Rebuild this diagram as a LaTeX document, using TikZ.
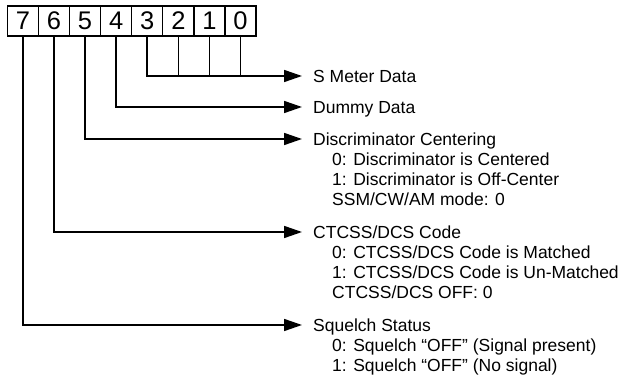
\documentclass[tikz,border=0pt]{standalone}
\usepackage{fontspec}
\setmainfont{Liberation Sans}
\usetikzlibrary{positioning, arrows.meta}

\begin{document}
\begin{tikzpicture}[
    x=1pt, y=-1pt,
    node distance=0pt,
    bitcell/.style={rectangle, draw=black, line width=1.3pt, outer sep=0pt, minimum width=31.1pt, minimum height=30pt, inner sep=0pt, font=\fontsize{25.5}{25.5}\selectfont},
    head/.style={anchor=west, inner xsep=11pt, inner ysep=0pt, text height=12.5pt, text depth=0pt, font=\fontsize{17.5}{20}\selectfont},
    detail/.style={align=left, inner sep=0pt, font=\fontsize{17.5}{20}\selectfont},
    arrow/.style={-{Triangle[length=18pt,width=12pt]}, line width=1.6pt},
    tick/.style={line width=1.3pt}
]
\useasboundingbox (0,0) rectangle (619,379);

% Register bits
\node[bitcell] (b7) at (22.85,21) {7};
\node[bitcell, right=of b7] (b6) {6};
\node[bitcell, right=of b6] (b5) {5};
\node[bitcell, right=of b5] (b4) {4};
\node[bitcell, right=of b4] (b3) {3};
\node[bitcell, right=of b3] (b2) {2};
\node[bitcell, right=of b2] (b1) {1};
\node[bitcell, right=of b1] (b0) {0};

% Field descriptions
\node[head] (smeter) at (302,76) {S Meter Data};
\node[head] (dummy) at (302,107) {Dummy Data};
\node[head] (disc) at (302,139) {Discriminator Centering};
\node[detail, below right=7.5pt and 30pt of disc.south west] (discinfo) {0: Discriminator is Centered\\1: Discriminator is Off-Center\\SSM/CW/AM mode: 0};
\node[head] (ctcss) at (302,232) {CTCSS/DCS Code};
\node[detail, below right=7.5pt and 30pt of ctcss.south west] (ctcssinfo) {0: CTCSS/DCS Code is Matched\\1: CTCSS/DCS Code is Un-Matched\\CTCSS/DCS OFF: 0};
\node[head] (squelch) at (302,325) {Squelch Status};
\node[detail, below right=7.5pt and 30pt of squelch.south west] (squelchinfo) {0: Squelch “OFF” (Signal present)\\1: Squelch “OFF” (No signal)};

% Bit lines
\draw[arrow] (b3.south) |- (smeter.west);
\draw[tick] (b2.south) -- (b2.south |- smeter.west);
\draw[tick] (b1.south) -- (b1.south |- smeter.west);
\draw[tick] (b0.south) -- (b0.south |- smeter.west);
\draw[arrow] (b4.south) |- (dummy.west);
\draw[arrow] (b5.south) |- (disc.west);
\draw[arrow] (b6.south) |- (ctcss.west);
\draw[arrow] (b7.south) |- (squelch.west);

\end{tikzpicture}
\end{document}
